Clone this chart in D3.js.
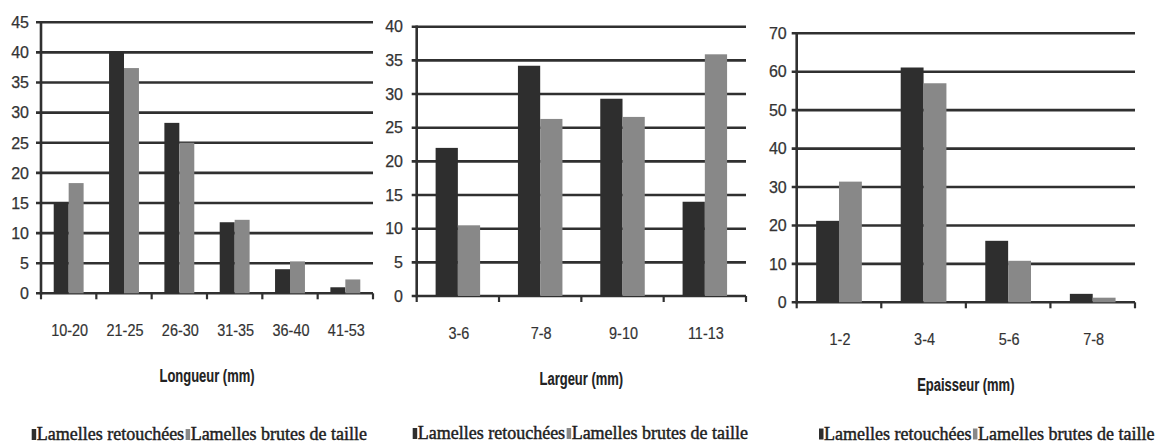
<!DOCTYPE html>
<html>
<head>
<meta charset="utf-8">
<script src="https://cdn.jsdelivr.net/npm/d3@7"></script>
<style>
html,body{margin:0;padding:0;background:#fff;}
svg{display:block;}
</style>
</head>
<body>
<svg id="chart" width="1157" height="443"></svg>
<script>
// ---- data ----
const seriesNames = ["Lamelles retouchées", "Lamelles brutes de taille"];

const longueurCats = ["10-20", "21-25", "26-30", "31-35", "36-40", "41-53"];
const longueurRetouchees = [15, 40, 28.3, 11.8, 4, 1];
const longueurBrutes = [18.3, 37.4, 25, 12.2, 5.3, 2.3];
const longueurTicks = [0, 5, 10, 15, 20, 25, 30, 35, 40, 45];

const largeurCats = ["3-6", "7-8", "9-10", "11-13"];
const largeurRetouchees = [22, 34.2, 29.3, 14];
const largeurBrutes = [10.5, 26.3, 26.6, 35.9];
const largeurTicks = [0, 5, 10, 15, 20, 25, 30, 35, 40];

const epaisseurCats = ["1-2", "3-4", "5-6", "7-8"];
const epaisseurRetouchees = [21.2, 61.1, 16, 2.2];
const epaisseurBrutes = [31.4, 57, 10.8, 1.2];
const epaisseurTicks = [0, 10, 20, 30, 40, 50, 60, 70];

const titles = ["Longueur (mm)", "Largeur (mm)", "Epaisseur (mm)"];

// ---- layout / style ----
const colors = ["#2e2e2e", "#888888"];
const gridColor = "#303030";
const layouts = [
  {left: 41, right: 373, top: 22.3, bottom: 293.3, ylabRight: 29, legendX: 31.7, legendY: 440, titleDy: 88.5},
  {left: 416.7, right: 746, top: 26.7, bottom: 296, ylabRight: 403, legendX: 412.7, legendY: 439, titleDy: 88.7},
  {left: 796.7, right: 1135, top: 33.3, bottom: 302.3, ylabRight: 786.7, legendX: 819, legendY: 439.5, titleDy: 89}
];

const charts = [
  {cats: longueurCats, vals: [longueurRetouchees, longueurBrutes], ticks: longueurTicks, title: titles[0]},
  {cats: largeurCats, vals: [largeurRetouchees, largeurBrutes], ticks: largeurTicks, title: titles[1]},
  {cats: epaisseurCats, vals: [epaisseurRetouchees, epaisseurBrutes], ticks: epaisseurTicks, title: titles[2]}
];

const svg = d3.select("#chart");
const sansFont = "'Liberation Sans', Arial, sans-serif";
const serifFont = "'Liberation Serif', 'Times New Roman', serif";

function squeeze(sel, factor) {
  sel.each(function() {
    const w = this.getComputedTextLength();
    d3.select(this).attr("textLength", w * factor).attr("lengthAdjust", "spacingAndGlyphs");
  });
}

charts.forEach((c, i) => {
  const L = layouts[i];
  const g = svg.append("g");
  const x0 = d3.scaleBand().domain(c.cats).range([L.left, L.right]).padding(0);
  const x1 = d3.scaleBand().domain([0, 1]).range([0, x0.bandwidth()]).paddingInner(0).paddingOuter(0.85);
  const y = d3.scaleLinear().domain([0, d3.max(c.ticks)]).range([L.bottom, L.top]);

  // gridlines (also serve as left ticks)
  g.append("g").selectAll("line").data(c.ticks).join("line")
    .attr("x1", L.left - 5).attr("x2", L.right)
    .attr("y1", d => y(d)).attr("y2", d => y(d))
    .attr("stroke", gridColor).attr("stroke-width", 2.6);

  // y tick labels
  g.append("g").selectAll("text").data(c.ticks).join("text")
    .attr("x", L.ylabRight).attr("y", d => y(d))
    .attr("dy", "0.36em")
    .attr("text-anchor", "end")
    .attr("font-family", sansFont).attr("font-size", 16)
    .attr("fill", "#333").attr("stroke", "#333").attr("stroke-width", 0.25)
    .text(d => d);

  // bars
  const groups = g.append("g").selectAll("g").data(c.cats).join("g")
    .attr("transform", d => `translate(${x0(d)},0)`);
  groups.selectAll("rect").data((d, k) => c.vals.map((s, si) => ({si, v: s[k]}))).join("rect")
    .attr("x", d => x1(d.si)).attr("width", x1.bandwidth())
    .attr("y", d => y(d.v)).attr("height", d => y(0) - y(d.v))
    .attr("fill", d => colors[d.si]);

  // y axis line
  g.append("line").attr("x1", L.left).attr("x2", L.left)
    .attr("y1", y(d3.max(c.ticks)) - 1.3).attr("y2", L.bottom + 1.3)
    .attr("stroke", gridColor).attr("stroke-width", 2.6);

  // x axis ticks at category boundaries
  const bounds = c.cats.map(d => x0(d)).concat([L.right]);
  g.append("g").selectAll("line").data(bounds).join("line")
    .attr("x1", d => d).attr("x2", d => d)
    .attr("y1", L.bottom).attr("y2", L.bottom + 6)
    .attr("stroke", gridColor).attr("stroke-width", 2.2);

  // x tick labels
  const xl = g.append("g").selectAll("text").data(c.cats).join("text")
    .attr("x", d => x0(d) + x0.bandwidth() / 2 + 1)
    .attr("y", L.bottom + 43)
    .attr("text-anchor", "middle")
    .attr("font-family", sansFont).attr("font-size", 16.5)
    .attr("fill", "#333").attr("stroke", "#333").attr("stroke-width", 0.2)
    .text(d => d);
  squeeze(xl, 0.875);

  // axis title
  const tt = g.append("text")
    .attr("x", (L.left + L.right) / 2).attr("y", L.bottom + L.titleDy)
    .attr("text-anchor", "middle")
    .attr("font-family", sansFont).attr("font-size", 18).attr("font-weight", "bold")
    .attr("fill", "#222").attr("stroke", "#222").attr("stroke-width", 0.15)
    .text(c.title);
  squeeze(tt, 0.72);

  // legend
  const lg = g.append("g").attr("transform", `translate(${L.legendX},${L.legendY})`);
  let cx = 0;
  seriesNames.forEach((name, si) => {
    lg.append("rect").attr("x", cx).attr("y", -11).attr("width", 4.5).attr("height", 11)
      .attr("fill", colors[si]);
    cx += 5;
    const t = lg.append("text").attr("x", cx).attr("y", 0)
      .attr("font-family", serifFont).attr("font-size", 18)
      .attr("fill", "#1e1e1e").attr("stroke", "#1e1e1e").attr("stroke-width", 0.45)
      .text(name);
    cx += t.node().getComputedTextLength() + 1.5;
  });
});
</script>
</body>
</html>
